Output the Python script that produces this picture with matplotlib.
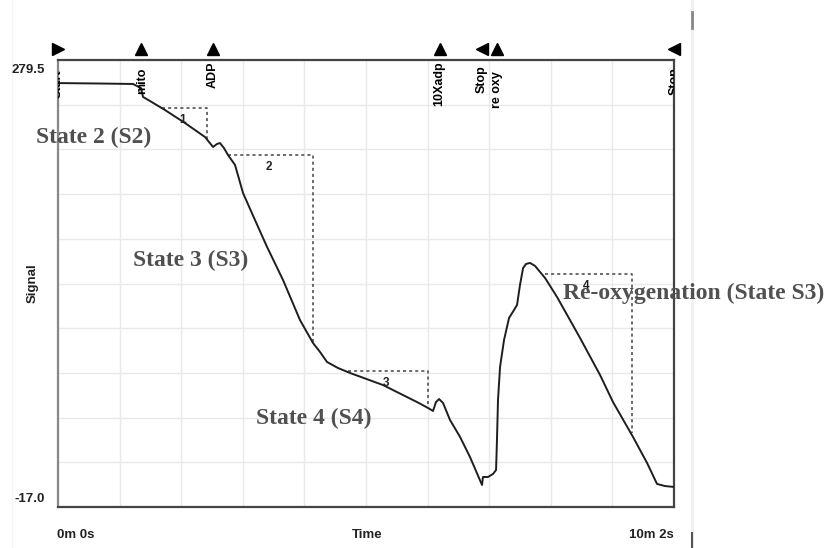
import numpy as np
import matplotlib
matplotlib.use("Agg")
import matplotlib.pyplot as plt
import matplotlib.transforms as mtransforms

# ----------------------------------------------------------------------
# data (time in s, signal in the recorder's units)
# ----------------------------------------------------------------------
time_s = [0, 41, 73.3, 75.3, 81.1, 83.1, 89.9, 104.6, 124.1, 143.7, 151.5,
          155.4, 158.3, 162.2, 166.1, 173.0, 180.8, 192.5, 204.3, 219.9,
          236.5, 249.2, 256.1, 262.9, 273.6, 285.4, 317.6, 350.9, 361.6,
          366.5, 369.4, 372.4, 376.3, 383.1, 392.9, 402.6, 414.4, 415.3,
          420.2, 425.1, 428.1, 429.0, 430.0, 432.0, 435.9, 440.8, 445.7,
          448.6, 451.5, 454.5, 457.4, 461.3, 466.2, 476.0, 487.7, 510.2,
          529.7, 542.4, 562.0, 575.7, 585.4, 593.2, 602]
signal = [264.2, 263.9, 263.6, 262.9, 260.9, 255.0, 252.3, 246.3, 237.7,
          228.4, 221.8, 223.8, 224.4, 221.1, 216.5, 209.9, 191.3, 173.4,
          155.5, 133.6, 107.0, 91.8, 85.8, 79.2, 75.2, 71.9, 63.9, 52.6,
          48.7, 46.7, 52.6, 54.6, 52.0, 40.7, 29.5, 16.2, -2.4, 2.9, 2.9,
          4.9, 7.5, 27.5, 54.0, 75.9, 93.8, 108.4, 113.7, 117.0, 130.3,
          141.5, 144.2, 144.9, 142.9, 134.9, 122.3, 95.1, 70.6, 52.6, 29.4,
          12.2, -1.7, -3.1, -3.7]

# rate boxes: horizontal start, corner time, top level, bottom of the drop
box_labels = ["1", "2", "3", "4"]
box_t0 = [101.6, 166.1, 283.4, 476.0]
box_t1 = [145.6, 249.2, 361.6, 561.0]
box_top = [247.7, 216.5, 73.2, 137.5]
box_bottom = [226.4, 91.8, 50.7, 32.1]

# event marks along the top
event_names = ["Start", "mito", "ADP", "10Xadp", "Stop", "re oxy", "Stop"]
event_text_t = [0, 82, 151.5, 372.4, 414.0, 429.5, 603]
event_mark_t = [0, 81.1, 151.5, 373.3, 414.4, 429.0, 602]
event_marks = [">", "^", "^", "^", "<", "^", "<"]

y_min, y_max = -17.0, 279.5
t_max = 602

# ----------------------------------------------------------------------
# figure
# ----------------------------------------------------------------------
fig = plt.figure(figsize=(8.26, 5.48), dpi=100)
ax = fig.add_axes([58 / 826, 41 / 548, 616 / 826, 447 / 548])
ax.set_xlim(0, t_max)
ax.set_ylim(y_min, y_max)

ax.set_xticks(np.linspace(0, t_max, 11))
ax.set_yticks(np.linspace(y_min, y_max, 11))
ax.tick_params(length=0, labelbottom=False, labelleft=False)
ax.grid(True, color="#e9e9e9", linewidth=1.0)
ax.set_axisbelow(True)
for side in ["top", "right", "bottom"]:
    ax.spines[side].set_color("#444444")
    ax.spines[side].set_linewidth(1.6)
ax.spines["left"].set_color("#888888")
ax.spines["left"].set_linewidth(1.6)

ax.plot(time_s, signal, color="#1e1e1e", linewidth=1.4, zorder=3)

# dotted rate boxes
for lab, t0, t1, top, bot in zip(box_labels, box_t0, box_t1, box_top, box_bottom):
    ax.plot([t0, t1, t1], [top, top, bot], color="#444444", linewidth=1.1,
            linestyle=(0, (2, 2)), zorder=2)
    ax.text((t0 + t1) / 2 - 2, top - 4, lab, ha="center", va="top",
            fontsize=8.5, fontweight="bold", color="#222222",
            family=["Liberation Sans", "DejaVu Sans"], zorder=4)

# event triangles and labels
tick_font = ["Liberation Sans Narrow", "Liberation Sans", "DejaVu Sans"]
label_drop = [10, 8, 2, 1, 5, 11, 7]
for name, tt, tm, mk, drop in zip(event_names, event_text_t, event_mark_t,
                                  event_marks, label_drop):
    ax.plot(tm, 286.8, marker=mk, color="black", markersize=8.5,
            clip_on=False, zorder=5)
    trans = mtransforms.offset_copy(ax.get_xaxis_transform(), fig=fig,
                                    y=-drop, units="dots")
    ax.text(tt, 1.0, name, transform=trans, rotation=90, ha="center",
            va="top", fontsize=9, fontweight="bold", family=tick_font,
            clip_on=True, zorder=4)

# axis end labels
lab_kw = dict(fontsize=9.5, fontweight="bold", family=tick_font,
              color="#222222")
fig.text(45 / 826, 1 - 70 / 548, "279.5", ha="right", va="center", **lab_kw)
fig.text(45 / 826, 1 - 499 / 548, "-17.0", ha="right", va="center", **lab_kw)
fig.text(33 / 826, 1 - 283 / 548, "Signal", ha="center", va="center",
         rotation=90, **lab_kw)
fig.text(57 / 826, 1 - 535 / 548, "0m 0s", ha="left", va="center", **lab_kw)
fig.text(367 / 826, 1 - 535 / 548, "Time", ha="center", va="center", **lab_kw)
fig.text(674 / 826, 1 - 535 / 548, "10m 2s", ha="right", va="center", **lab_kw)

# state annotations
state_kw = dict(fontsize=17, fontweight="bold", color="#505050",
                family=["Liberation Serif", "DejaVu Serif"], va="center",
                ha="left")
fig.text(36 / 826, 1 - 137 / 548, "State 2 (S2)", **state_kw)
fig.text(133 / 826, 1 - 260 / 548, "State 3 (S3)", **state_kw)
fig.text(256 / 826, 1 - 418 / 548, "State 4 (S4)", **state_kw)
fig.text(563 / 826, 1 - 293 / 548, "Re-oxygenation (State S3)", zorder=6,
         **state_kw)

# screenshot edge marks on the right
fig.add_artist(plt.Line2D([692 / 826, 692 / 826], [0, 1], color="#f0f0f0",
                          linewidth=2))
fig.add_artist(plt.Line2D([692 / 826, 692 / 826], [1 - 12 / 548, 1 - 28 / 548],
                          color="#888888", linewidth=2))
fig.add_artist(plt.Line2D([692 / 826, 692 / 826], [0, 1 - 533 / 548],
                          color="#555555", linewidth=1.5))
fig.add_artist(plt.Line2D([12 / 826, 12 / 826], [0, 1], color="#f5f5f5",
                          linewidth=1))

fig.savefig("out.png", dpi=100)
